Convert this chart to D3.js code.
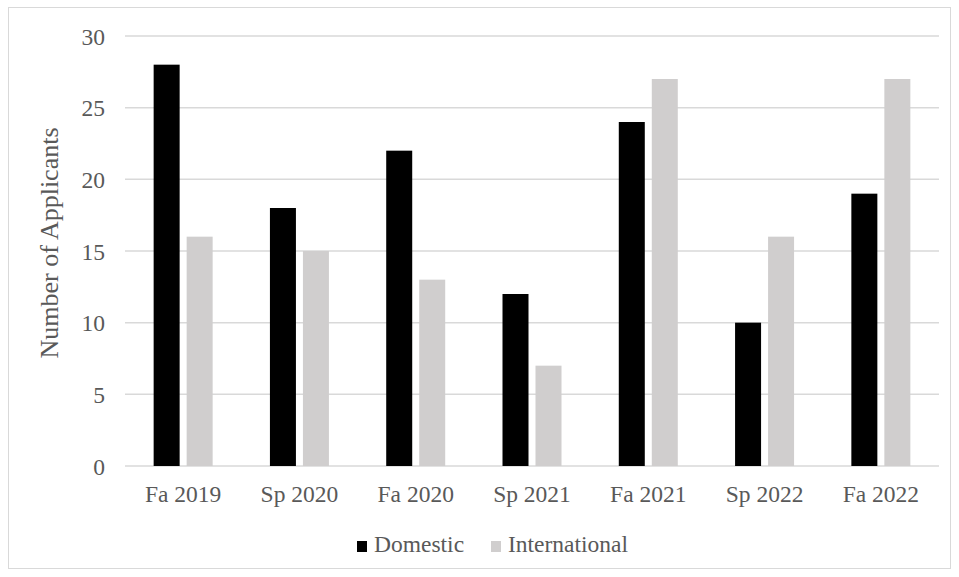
<!DOCTYPE html>
<html>
<head>
<meta charset="utf-8">
<script src="https://cdn.jsdelivr.net/npm/d3@7"></script>
<style>
  html, body { margin: 0; padding: 0; background: #fff; }
  svg { display: block; }
</style>
</head>
<body>
<svg id="chart" width="959" height="577"></svg>
<script>
const terms = ["Fa 2019", "Sp 2020", "Fa 2020", "Sp 2021", "Fa 2021", "Sp 2022", "Fa 2022"];
const domestic = [28, 18, 22, 12, 24, 10, 19];
const international = [16, 15, 13, 7, 27, 16, 27];
const yTicks = [0, 5, 10, 15, 20, 25, 30];
const seriesNames = ["Domestic", "International"];
const seriesColors = ["#000000", "#d0cece"];

const FONT = "'Liberation Serif', 'Times New Roman', serif";
const TEXT_COLOR = "#595959";
const fontSize = 23.5;

const svg = d3.select("#chart");
const W = 959, H = 577;
const plot = { left: 125, right: 939, top: 36, bottom: 466 };

function styleText(sel, size = fontSize) {
  return sel.style("font-family", FONT)
    .style("font-size", size + "px")
    .style("fill", TEXT_COLOR);
}

// outer chart border
svg.append("rect")
  .attr("x", 8.5).attr("y", 7.5)
  .attr("width", W - 17).attr("height", H - 16)
  .attr("fill", "none").attr("stroke", "#d9d9d9").attr("stroke-width", 1);

const x = d3.scaleBand().domain(terms).range([plot.left, plot.right]);
const y = d3.scaleLinear().domain([0, 30]).range([plot.bottom, plot.top]);

// gridlines
svg.append("g")
  .selectAll("line")
  .data(yTicks)
  .join("line")
  .attr("x1", plot.left).attr("x2", plot.right)
  .attr("y1", d => y(d)).attr("y2", d => y(d))
  .attr("stroke", "#d9d9d9").attr("stroke-width", 1.5);

// y tick labels
const yAxis = d3.axisLeft(y).tickValues(yTicks).tickSize(0).tickPadding(0);
const gy = svg.append("g").attr("transform", `translate(${plot.left - 20},0)`).call(yAxis);
gy.select(".domain").remove();
gy.attr("font-family", null).attr("font-size", null);
styleText(gy.selectAll("text")).attr("dy", "0.35em");

// x tick labels
const xAxis = d3.axisBottom(x).tickSize(0).tickPadding(0);
const gx = svg.append("g").attr("transform", `translate(0,${plot.bottom})`).call(xAxis);
gx.select(".domain").remove();
gx.attr("font-family", null).attr("font-size", null);
styleText(gx.selectAll("text")).attr("y", 36).attr("dy", 0);

// bars: domestic left of the band centre, international right
const barW = 26, gap = 7;
const series = [domestic, international];
series.forEach((vals, si) => {
  svg.append("g")
    .selectAll("rect")
    .data(terms.map((t, i) => ({ t, v: vals[i] })))
    .join("rect")
    .attr("x", d => x(d.t) + x.bandwidth() / 2 + (si === 0 ? -(gap / 2 + barW) : gap / 2))
    .attr("y", d => y(d.v))
    .attr("width", barW)
    .attr("height", d => y(0) - y(d.v))
    .attr("fill", seriesColors[si]);
});

// y axis title
styleText(svg.append("text"), 26)
  .attr("transform", "translate(58,243) rotate(-90)")
  .attr("text-anchor", "middle")
  .text("Number of Applicants");

// legend
const legendX = [357, 491];
const lg = svg.append("g");
seriesNames.forEach((name, i) => {
  lg.append("rect")
    .attr("x", legendX[i]).attr("y", 541)
    .attr("width", 10).attr("height", 11)
    .attr("fill", seriesColors[i]);
  styleText(lg.append("text"))
    .attr("x", legendX[i] + 17).attr("y", 552)
    .text(name);
});
</script>
</body>
</html>
